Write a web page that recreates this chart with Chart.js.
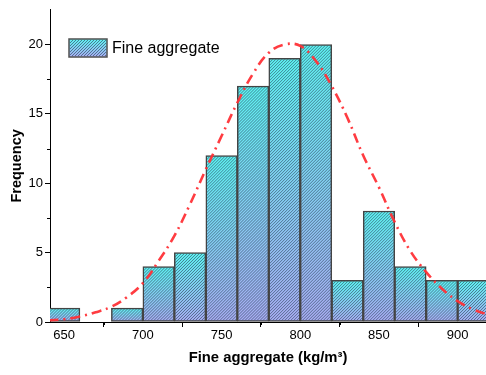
<!DOCTYPE html>
<html>
<head>
<meta charset="utf-8">
<script src="https://cdn.jsdelivr.net/npm/chart.js@4"></script>
<style>
  html, body { margin: 0; padding: 0; background: #fff; }
  #wrap { width: 486px; height: 375px; }
</style>
</head>
<body>
<div id="wrap"><canvas id="histCanvas"></canvas></div>
<script>
// histogram bins (lower edge, kg/m3) and counts
const binStarts = [640, 660, 680, 700, 720, 740, 760, 780, 800, 820, 840, 860, 880, 900];
const binCounts = [1, 0, 1, 4, 5, 12, 17, 19, 20, 3, 8, 4, 3, 3];
const binWidth = 20;

// fitted normal curve
const curveX = [640, 650, 660, 670, 680, 690, 700, 710, 720, 730, 740, 750, 760, 770, 780, 790, 800, 810, 820, 830, 840, 850, 860, 870, 880, 890, 900, 910, 920];
const curveY = [0.12, 0.2, 0.4, 0.7, 1.1, 1.8, 2.8, 4.4, 6.2, 8.5, 11.0, 13.4, 15.8, 17.9, 19.4, 20.0, 19.9, 18.8, 17.0, 14.7, 12.0, 9.7, 7.2, 5.1, 3.6, 2.4, 1.5, 0.9, 0.5];

// axis ticks
const xMajor = [650, 700, 750, 800, 850, 900];
const xMinor = [675, 725, 775, 825, 875];
const yMajor = [0, 5, 10, 15, 20];
const yMinor = [2.5, 7.5, 12.5, 17.5];

const seriesName = 'Fine aggregate';

const FONT = "'Liberation Sans', Arial, sans-serif";
const TOP_COL = '#5ef2f2';
const BOT_COL = '#a8acf2';

function barGradient(ctx, top, bottom) {
  if (!isFinite(top) || !isFinite(bottom) || top === bottom) return TOP_COL;
  const g = ctx.createLinearGradient(0, top, 0, bottom);
  g.addColorStop(0, TOP_COL);
  g.addColorStop(1, BOT_COL);
  return g;
}

// diagonal hatch inside a rect
function hatchRect(ctx, l, t, r, b) {
  ctx.save();
  ctx.beginPath();
  ctx.rect(l, t, r - l, b - t);
  ctx.clip();
  ctx.strokeStyle = 'rgba(30, 50, 70, 0.62)';
  ctx.lineWidth = 0.9;
  ctx.beginPath();
  const h = b - t;
  for (let x = l - h; x < r + h; x += 3) {
    ctx.moveTo(x, b);
    ctx.lineTo(x + h, t);
  }
  ctx.stroke();
  ctx.restore();
}

const histPlugin = {
  id: 'histExtras',
  afterDatasetDraw(chart, args) {
    if (args.index !== 0) return;
    const ctx = chart.ctx;
    const area = chart.chartArea;
    ctx.save();
    ctx.beginPath();
    ctx.rect(area.left, area.top, area.right - area.left, area.bottom - area.top);
    ctx.clip();
    args.meta.data.forEach(el => {
      const p = el.getProps(['x', 'y', 'base', 'width'], true);
      if (!isFinite(p.y) || !isFinite(p.base) || Math.abs(p.base - p.y) < 1) return;
      const l = p.x - p.width / 2, r = p.x + p.width / 2;
      hatchRect(ctx, l + 1, Math.min(p.y, p.base) + 1, r - 1, Math.max(p.y, p.base) - 1);
    });
    ctx.restore();
  },
  afterDraw(chart) {
    const ctx = chart.ctx;
    const xs = chart.scales.x, ys = chart.scales.y;
    const area = chart.chartArea;
    // minor ticks
    ctx.save();
    ctx.strokeStyle = '#000';
    ctx.lineWidth = 1;
    ctx.beginPath();
    xMinor.forEach(v => {
      const px = Math.round(xs.getPixelForValue(v)) + 0.5;
      ctx.moveTo(px, area.bottom);
      ctx.lineTo(px, area.bottom + 3);
    });
    yMinor.forEach(v => {
      const py = Math.round(ys.getPixelForValue(v)) + 0.5;
      ctx.moveTo(area.left, py);
      ctx.lineTo(area.left - 3, py);
    });
    ctx.stroke();

    // legend
    const bx = 69, by = 39, bw = 38, bh = 18;
    ctx.fillStyle = barGradient(ctx, by, by + bh);
    ctx.fillRect(bx, by, bw, bh);
    hatchRect(ctx, bx + 1, by + 1, bx + bw - 1, by + bh - 1);
    ctx.strokeStyle = '#505050';
    ctx.lineWidth = 1.5;
    ctx.strokeRect(bx, by, bw, bh);
    ctx.fillStyle = '#000';
    ctx.font = '16px ' + FONT;
    ctx.textBaseline = 'middle';
    ctx.textAlign = 'left';
    ctx.fillText(seriesName, 112, by + bh / 2 + 1);
    ctx.restore();
  }
};

var histCtx = document.getElementById('histCanvas').getContext('2d');

var histChart = new Chart(histCtx, {
  type: 'bar',
  data: {
    datasets: [
      {
        label: seriesName,
        order: 1,
        data: binStarts.map((s, i) => ({ x: s + binWidth / 2, y: binCounts[i] === 0 ? null : binCounts[i] })),
        backgroundColor: (c) => {
          if (c.type !== 'data' || !c.parsed || c.parsed.y == null) return TOP_COL;
          const ys = c.chart.scales.y;
          if (!ys) return TOP_COL;
          return barGradient(c.chart.ctx, ys.getPixelForValue(c.parsed.y), ys.getPixelForValue(0));
        },
        borderColor: '#444444',
        borderWidth: 1.5,
        borderSkipped: false,
        barPercentage: 1,
        categoryPercentage: 1
      },
      {
        type: 'line',
        label: 'fit',
        order: 0,
        data: curveX.map((x, i) => ({ x: x, y: curveY[i] })),
        borderColor: 'rgba(255, 50, 55, 0.95)',
        borderWidth: 2.6,
        borderDash: [10, 5, 2, 5],
        pointRadius: 0,
        tension: 0.4,
        fill: false
      }
    ]
  },
  options: {
    responsive: true,
    maintainAspectRatio: false,
    animation: false,
    layout: { padding: { top: 4, left: 0, right: 0, bottom: 0 } },
    plugins: {
      legend: { display: false },
      tooltip: { enabled: false }
    },
    scales: {
      x: {
        type: 'linear',
        min: 641,
        max: 918,
        offset: false,
        afterBuildTicks: s => { s.ticks = xMajor.map(v => ({ value: v })); },
        afterFit: s => { s.height = 53; },
        grid: { display: true, drawOnChartArea: false, drawTicks: true, tickLength: 5, tickColor: '#000' },
        border: { display: true, color: '#000', width: 1 },
        ticks: { color: '#000', padding: 1, maxRotation: 0, font: { family: FONT, size: 13 } },
        title: {
          display: true,
          text: 'Fine aggregate (kg/m³)',
          color: '#000',
          font: { family: FONT, size: 14.8, weight: 'bold' },
          padding: { top: 0, bottom: 8 }
        }
      },
      y: {
        min: 0,
        max: 22.5,
        afterBuildTicks: s => { s.ticks = yMajor.map(v => ({ value: v })); },
        afterFit: s => { s.width = 50; },
        grid: { display: true, drawOnChartArea: false, drawTicks: true, tickLength: 5, tickColor: '#000' },
        border: { display: true, color: '#000', width: 1 },
        ticks: { color: '#000', padding: 2, font: { family: FONT, size: 13 } },
        title: {
          display: true,
          text: 'Frequency',
          color: '#000',
          font: { family: FONT, size: 14.5, weight: 'bold' },
          padding: { top: 8, bottom: 0 }
        }
      }
    }
  },
  plugins: [histPlugin]
});
</script>
</body>
</html>
